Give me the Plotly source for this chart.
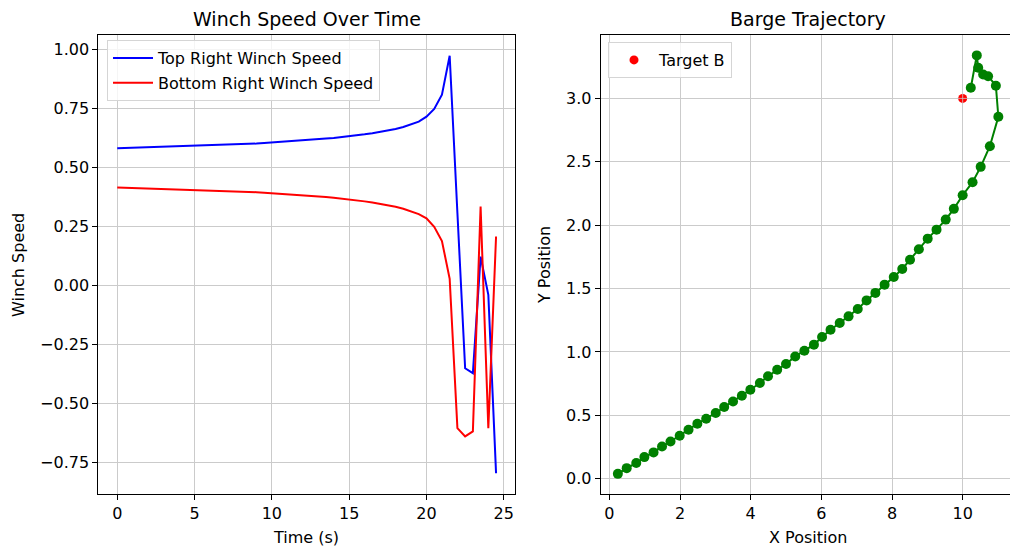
import plotly.graph_objects as go

# Winch speeds sampled every 0.5 s
time_s = [0.0, 0.5, 1.0, 1.5, 2.0, 2.5, 3.0, 3.5, 4.0, 4.5,
          5.0, 5.5, 6.0, 6.5, 7.0, 7.5, 8.0, 8.5, 9.0, 9.5,
          10.0, 10.5, 11.0, 11.5, 12.0, 12.5, 13.0, 13.5, 14.0, 14.5,
          15.0, 15.5, 16.0, 16.5, 17.0, 17.5, 18.0, 18.5, 19.0, 19.5,
          20.0, 20.5, 21.0, 21.5, 22.0, 22.5, 23.0, 23.5, 24.0, 24.5]

top_right_speed = [0.583, 0.584, 0.584, 0.585, 0.586, 0.587, 0.588, 0.589, 0.590, 0.591,
                   0.592, 0.593, 0.594, 0.596, 0.597, 0.598, 0.600, 0.601, 0.603, 0.605,
                   0.607, 0.609, 0.611, 0.613, 0.616, 0.618, 0.621, 0.624, 0.627, 0.630,
                   0.634, 0.638, 0.642, 0.647, 0.652, 0.658, 0.665, 0.673, 0.683, 0.696,
                   0.717, 0.750, 0.810, 0.975, 0.310, -0.349, -0.370, 0.124, -0.038, -0.794]

bottom_right_speed = [0.417, 0.416, 0.416, 0.415, 0.414, 0.413, 0.412, 0.411, 0.410, 0.409,
                      0.408, 0.407, 0.406, 0.404, 0.403, 0.402, 0.400, 0.399, 0.397, 0.395,
                      0.393, 0.391, 0.389, 0.387, 0.384, 0.382, 0.379, 0.376, 0.373, 0.370,
                      0.366, 0.362, 0.358, 0.353, 0.348, 0.342, 0.335, 0.327, 0.317, 0.304,
                      0.286, 0.250, 0.190, 0.030, -0.603, -0.638, -0.617, 0.336, -0.603, 0.209]

# Barge positions at the same instants
barge_x = [0.24, 0.49, 0.76, 0.99, 1.25, 1.49, 1.73, 1.99, 2.24, 2.49,
           2.74, 3.01, 3.25, 3.50, 3.75, 3.99, 4.26, 4.49, 4.75, 5.00,
           5.26, 5.52, 5.79, 6.02, 6.26, 6.52, 6.77, 7.03, 7.28, 7.53,
           7.79, 8.05, 8.29, 8.51, 8.76, 9.01, 9.26, 9.52, 9.75, 10.00,
           10.28, 10.51, 10.77, 11.01, 10.94, 10.72, 10.58, 10.44, 10.40, 10.23]
barge_y = [0.039, 0.084, 0.124, 0.171, 0.208, 0.255, 0.294, 0.339, 0.387, 0.434,
           0.474, 0.519, 0.566, 0.610, 0.655, 0.702, 0.755, 0.808, 0.860, 0.905,
           0.965, 1.010, 1.058, 1.118, 1.176, 1.229, 1.281, 1.339, 1.407, 1.466,
           1.531, 1.592, 1.655, 1.728, 1.810, 1.894, 1.965, 2.044, 2.129, 2.236,
           2.339, 2.460, 2.623, 2.855, 3.100, 3.175, 3.189, 3.242, 3.339, 3.084]

target_x = [10.0]
target_y = [3.0]

FONT = "DejaVu Sans"
GRID = "#cbcbcb"
W, H = 1010, 548
TXT = 16

fig = go.Figure()

fig.add_trace(go.Scatter(
    x=time_s, y=top_right_speed, mode="lines", name="Top Right Winch Speed",
    line=dict(color="#0000ff", width=2), xaxis="x", yaxis="y",
    legend="legend", legendgroup="a"))
fig.add_trace(go.Scatter(
    x=time_s, y=bottom_right_speed, mode="lines", name="Bottom Right Winch Speed",
    line=dict(color="#ff0000", width=2), xaxis="x", yaxis="y",
    legend="legend", legendgroup="b"))

fig.add_trace(go.Scatter(
    x=target_x, y=target_y, mode="markers", name="Target B",
    marker=dict(color="#ff0000", size=9), xaxis="x2", yaxis="y2",
    legend="legend2"))
fig.add_trace(go.Scatter(
    x=barge_x, y=barge_y, mode="lines+markers", showlegend=False,
    line=dict(color="#008000", width=2),
    marker=dict(color="#008000", size=10),
    xaxis="x2", yaxis="y2"))

axis_common = dict(
    showgrid=True, gridcolor=GRID, gridwidth=1,
    showline=True, linecolor="black", linewidth=1,
    ticks="outside", ticklen=5, tickcolor="black", tickwidth=1,
    tickfont=dict(family=FONT, size=TXT, color="black"),
    zeroline=False,
)

L0, L1 = 98.3 / W, 515 / W
R0, R1 = 600.7 / W, 1.0

fig.update_layout(
    width=W, height=H,
    margin=dict(l=0, r=0, t=35, b=54),
    plot_bgcolor="white", paper_bgcolor="white",
    font=dict(family=FONT, size=TXT, color="black"),
    xaxis=dict(axis_common, domain=[L0, L1], range=[-1.225, 25.725],
               tickvals=[0, 5, 10, 15, 20, 25], mirror=True, anchor="y"),
    yaxis=dict(axis_common, domain=[0, 1], range=[-0.882, 1.063],
               tickvals=[-0.75, -0.5, -0.25, 0, 0.25, 0.5, 0.75, 1.0],
               tickformat=".2f", mirror=True, anchor="x"),
    xaxis2=dict(axis_common, domain=[R0, R1], range=[-0.246, 11.34],
                tickvals=[0, 2, 4, 6, 8, 10], mirror=True, anchor="y2"),
    yaxis2=dict(axis_common, domain=[0, 1], range=[-0.12, 3.50],
                tickvals=[0, 0.5, 1.0, 1.5, 2.0, 2.5, 3.0],
                tickformat=".1f", mirror=False, anchor="x2"),
    legend=dict(x=107 / W, y=(494 - 40) / 459, xanchor="left", yanchor="top",
                bgcolor="rgba(255,255,255,0.8)", bordercolor="#d5d5d5",
                borderwidth=1, font=dict(family=FONT, size=TXT),
                tracegroupgap=1, itemwidth=40),
    legend2=dict(x=608 / W, y=(494 - 42) / 459, xanchor="left", yanchor="top",
                 bgcolor="rgba(255,255,255,0.8)", bordercolor="#d5d5d5",
                 borderwidth=1, font=dict(family=FONT, size=TXT), itemwidth=40),
)

# Gridlines run over the target marker
dx, dy = 0.16, 0.045
for tx, ty in zip(target_x, target_y):
    fig.add_shape(type="line", xref="x2", yref="y2", x0=tx - dx, x1=tx + dx,
                  y0=ty, y1=ty, line=dict(color="rgba(200,200,200,0.8)", width=1),
                  layer="above")
    fig.add_shape(type="line", xref="x2", yref="y2", x0=tx, x1=tx,
                  y0=ty - dy, y1=ty + dy, line=dict(color="rgba(200,200,200,0.8)", width=1),
                  layer="above")

def label(text, x, y, size=TXT, angle=0):
    fig.add_annotation(text=text, x=x, y=y, xref="paper", yref="paper",
                       xanchor="center", yanchor="middle", showarrow=False,
                       textangle=angle, font=dict(family=FONT, size=size, color="black"))

label("Winch Speed Over Time", (L0 + L1) / 2, (494 - 19) / 459, size=19)
label("Barge Trajectory", 808 / W, (494 - 19) / 459, size=19)
label("Time (s)", 306 / W, (494 - 537) / 459)
label("X Position", 808 / W, (494 - 537) / 459)
label("Winch Speed", 18 / W, (494 - 265) / 459, angle=-90)
label("Y Position", 544 / W, (494 - 265) / 459, angle=-90)

fig.write_html("out.html")
